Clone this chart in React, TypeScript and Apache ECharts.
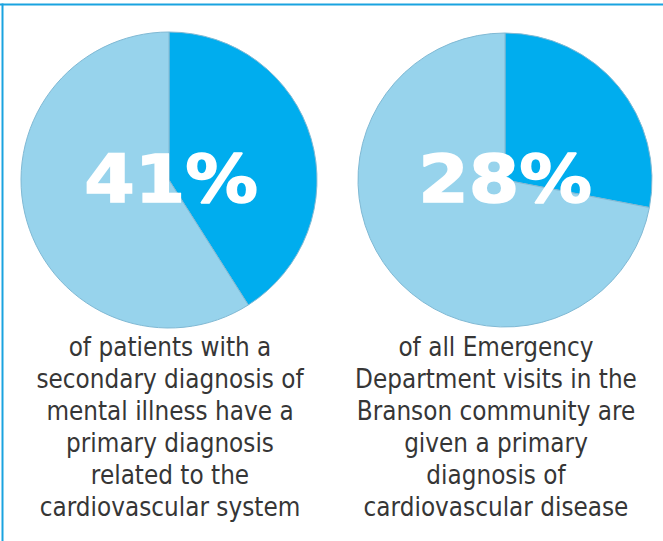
import React, { useEffect, useRef } from "react";
import * as echarts from "echarts";

const leftValues = [41, 59];
const rightValues = [28, 72];
const sliceNames = ["Share", "Rest"];
const leftCaption = [
  "of patients with a",
  "secondary diagnosis of",
  "mental illness have a",
  "primary diagnosis",
  "related to the",
  "cardiovascular system",
];
const rightCaption = [
  "of all Emergency",
  "Department visits in the",
  "Branson community are",
  "given a primary",
  "diagnosis of",
  "cardiovascular disease",
];

const DARK = "#00adee";
const LIGHT = "#97d3ec";

export default function App() {
  const ref = useRef<HTMLDivElement>(null);
  useEffect(() => {
    if (!ref.current) return;
    const chart = echarts.init(ref.current, undefined, { renderer: "svg" });
    const mkPie = (vals: number[], center: number[], r: number) => ({
      type: "pie",
      center,
      radius: r,
      startAngle: 90,
      clockwise: true,
      silent: true,
      label: { show: false },
      labelLine: { show: false },
      emphasis: { disabled: true },
      itemStyle: { borderColor: "#80b9d4", borderWidth: 1 },
      data: vals.map((v, i) => ({
        value: v,
        name: sliceNames[i],
        itemStyle: { color: i === 0 ? DARK : LIGHT },
      })),
    });
    const bigText = (val: number, cx: number) => ({
      type: "text",
      x: cx,
      y: 179,
      scaleX: 1.1,
      z: 100,
      style: {
        x: 0,
        y: 0,
        text: `${val}%`,
        fill: "#ffffff",
        stroke: "#ffffff",
        lineWidth: 1.5,
        font: 'bold 66px "DejaVu Sans"',
        textAlign: "center",
        textVerticalAlign: "middle",
      },
    });
    const caption = (lines: string[], cx: number) => ({
      type: "text",
      x: cx,
      y: 331,
      scaleX: 0.86,
      z: 100,
      style: {
        x: 0,
        y: 0,
        text: lines.join("\n"),
        fill: "#363636",
        font: '27px "DejaVu Sans"',
        lineHeight: 32,
        textAlign: "center",
        textVerticalAlign: "top",
      },
    });
    chart.setOption({
      animation: false,
      backgroundColor: "#ffffff",
      series: [mkPie(leftValues, [169, 180], 148), mkPie(rightValues, [505, 180], 147)],
      graphic: [
        { type: "rect", shape: { x: 0, y: 3.5, width: 663, height: 2 }, style: { fill: "#1aa3e0" } },
        { type: "rect", shape: { x: 1.5, y: 3.5, width: 2, height: 540 }, style: { fill: "#1aa3e0" } },
        bigText(leftValues[0], 171),
        bigText(rightValues[0], 505),
        caption(leftCaption, 170),
        caption(rightCaption, 496),
      ],
    });
    return () => chart.dispose();
  }, []);
  return (
    <div
      ref={ref}
      style={{ position: "absolute", left: 0, top: 0, width: 663, height: 541, background: "#fff" }}
    />
  );
}
